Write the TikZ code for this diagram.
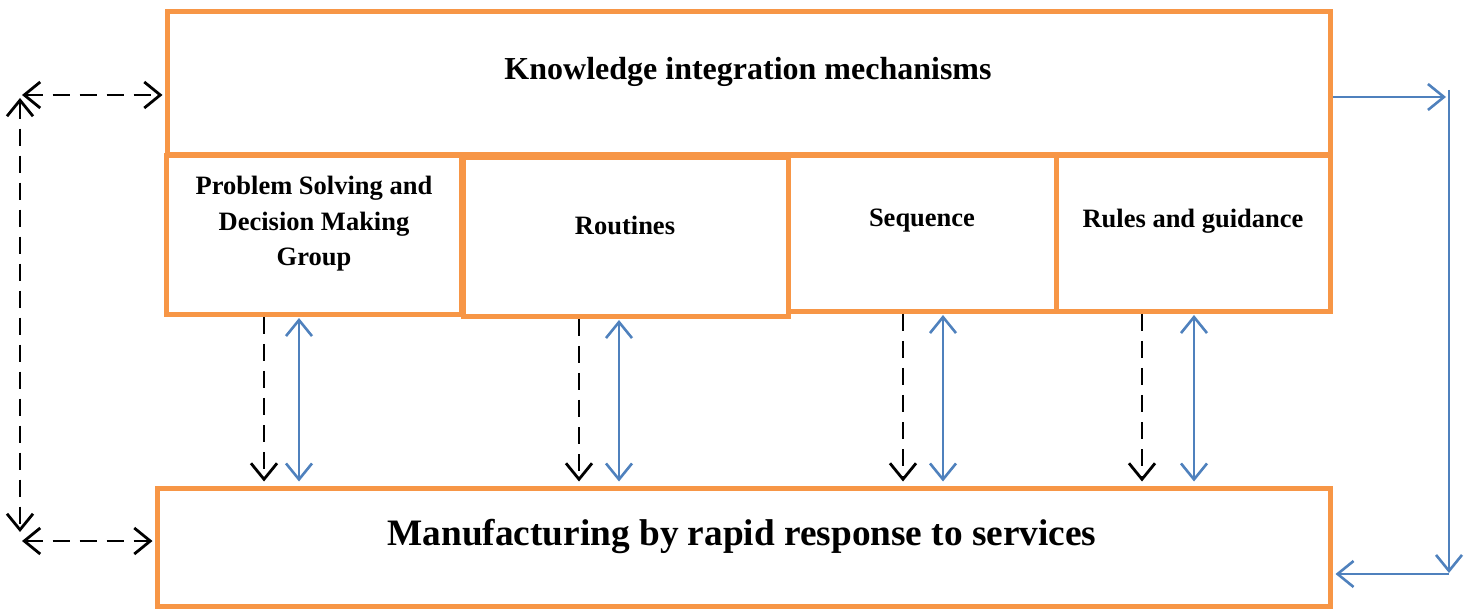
\documentclass[tikz,border=0pt]{standalone}
\usepackage{fontspec}
\setmainfont{Liberation Serif}
\usetikzlibrary{arrows.meta}
\definecolor{boxorange}{HTML}{F79646}
\definecolor{linkblue}{HTML}{4F81BD}
\tikzset{
  box/.style={draw=boxorange, line width=5pt, inner sep=0pt, rectangle},
  lbl/.style={font=\bfseries\fontsize{26.5}{35.5}\selectfont, align=center, inner sep=0pt},
  dasharrow/.style={draw=black, line width=2.8pt, dash pattern=on 17pt off 10pt, {Straight Barb[length=16pt,width=26pt]}-{Straight Barb[length=16pt,width=26pt]}},
  dashdown/.style={draw=black, line width=2.8pt, dash pattern=on 17pt off 10pt, -{Straight Barb[length=16pt,width=26pt]}},
  bluearrow/.style={draw=linkblue, line width=2.6pt, {Straight Barb[length=16pt,width=26pt]}-{Straight Barb[length=16pt,width=26pt]}},
  blueone/.style={draw=linkblue, line width=2.6pt, -{Straight Barb[length=16pt,width=26pt]}}
}
\begin{document}
\begin{tikzpicture}[x=1pt,y=-1pt]
\useasboundingbox (0,0) rectangle (1467,609);
% boxes
\node[box, minimum width=1163pt, minimum height=143pt] (top) at (748.5,83.5) {};
\node[box, minimum width=295pt, minimum height=159pt] (b1) at (314,235) {};
\node[box, minimum width=325pt, minimum height=159pt] (b2) at (625.5,237) {};
\node[box, minimum width=268pt, minimum height=156pt] (b3) at (922,233.5) {};
\node[box, minimum width=274pt, minimum height=156pt] (b4) at (1193,233.5) {};
\node[box, minimum width=1173pt, minimum height=118pt] (bot) at (743.5,547) {};
% texts
\node[font=\bfseries\fontsize{32}{38}\selectfont, inner sep=0pt] (ttop) at (748,72) {Knowledge integration mechanisms};
\node[lbl] (t1) at (314,224) {Problem Solving and\\Decision Making\\Group};
\node[lbl] (t2) at (625,225) {Routines};
\node[lbl] (t3) at (922,221) {Sequence};
\node[lbl] (t4) at (1193,221) {Rules and guidance};
\node[font=\bfseries\fontsize{37.3}{44}\selectfont, inner sep=0pt] (tbot) at (742,536) {Manufacturing by rapid response to services};
% x positions of vertical connectors
\coordinate (d1) at (264,0);
\coordinate (u1) at (299,0);
\coordinate (d2) at (579,0);
\coordinate (u2) at (619,0);
\coordinate (d3) at (903,0);
\coordinate (u3) at (943,0);
\coordinate (d4) at (1142,0);
\coordinate (u4) at (1194,0);
\draw[dashdown] (b1.south -| d1) -- ([yshift=4pt]bot.north -| d1);
\draw[bluearrow] ([yshift=-1pt]b1.south -| u1) -- ([yshift=4pt]bot.north -| u1);
\draw[dashdown] (b2.south -| d2) -- ([yshift=4pt]bot.north -| d2);
\draw[bluearrow] ([yshift=-1pt]b2.south -| u2) -- ([yshift=4pt]bot.north -| u2);
\draw[dashdown] (b3.south -| d3) -- ([yshift=4pt]bot.north -| d3);
\draw[bluearrow] ([yshift=-1pt]b3.south -| u3) -- ([yshift=4pt]bot.north -| u3);
\draw[dashdown] (b4.south -| d4) -- ([yshift=4pt]bot.north -| d4);
\draw[bluearrow] ([yshift=-1pt]b4.south -| u4) -- ([yshift=4pt]bot.north -| u4);
% left dashed loop
\coordinate (lt) at (22,95);
\coordinate (lb) at (22,541);
\coordinate (vt) at (20,98);
\coordinate (vb) at (20,532);
\draw[dasharrow] (lt) -- ([xshift=-2pt]top.west |- lt);
\draw[dasharrow] (lb) -- ([xshift=-2pt]bot.west |- lb);
\draw[dasharrow] (vt) -- (vb);
% right blue loop
\coordinate (rt) at (1449,97);
\coordinate (rtop) at (1449,90);
\coordinate (rb) at (1449,574);
\coordinate (rc) at (1449,573);
\draw[blueone] (top.east |- rt) -- ([xshift=-3pt]rt);
\draw[blueone] (rtop) -- (rc);
\draw[blueone] (rb) -- ([xshift=3pt]bot.east |- rb);
\end{tikzpicture}
\end{document}
